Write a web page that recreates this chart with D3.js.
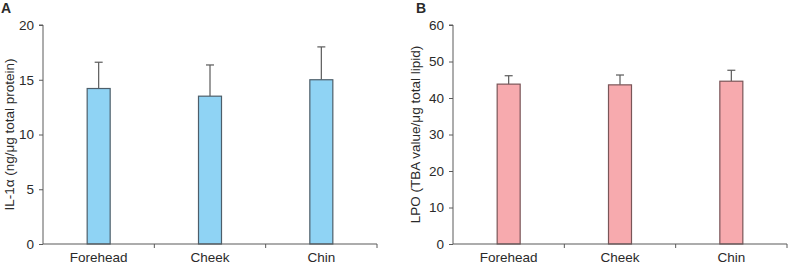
<!DOCTYPE html>
<html><head><meta charset="utf-8">
<script src="https://cdn.jsdelivr.net/npm/d3@7"></script>
<style>body{margin:0;background:#fff}svg{display:block}text{font-family:"Liberation Sans",Arial,sans-serif}</style>
</head><body>
<svg id="c" width="789" height="264"></svg>
<script>
const categories = ["Forehead", "Cheek", "Chin"];
const il1aMean = [14.2, 13.5, 15.0];
const il1aErr = [2.4, 2.85, 3.0];
const lpoMean = [43.8, 43.6, 44.6];
const lpoErr = [2.3, 2.7, 3.0];
const il1aTicks = [0, 5, 10, 15, 20];
const lpoTicks = [0, 10, 20, 30, 40, 50, 60];

const svg = d3.select("#c");
const axisColor = "#5a5a5a";
const textColor = "#2a2a2a";
const fs = 13.5;

function panel(opt) {
  const g = svg.append("g");
  const x = d3.scaleBand().domain(categories).range([opt.x0, opt.x1]).paddingInner(0).paddingOuter(0);
  const y = d3.scaleLinear().domain([0, opt.max]).range([244, 25]);
  const barW = 23;
  opt.mean.forEach((v, i) => {
    const c = x(categories[i]) + x.bandwidth() / 2;
    const top = y(v), etop = y(v + opt.err[i]);
    g.append("line").attr("x1", c).attr("x2", c).attr("y1", top).attr("y2", etop).attr("stroke", axisColor).attr("stroke-width", 1.2);
    g.append("line").attr("x1", c - 4).attr("x2", c + 4).attr("y1", etop).attr("y2", etop).attr("stroke", axisColor).attr("stroke-width", 1.2);
    g.append("rect").attr("x", c - barW / 2).attr("y", top).attr("width", barW).attr("height", y(0) - top)
      .attr("fill", opt.fill).attr("stroke", opt.stroke).attr("stroke-width", 1.2);
  });
  const ya = d3.axisLeft(y).tickValues(opt.ticks).tickSize(4).tickPadding(5);
  const yg = g.append("g").attr("transform", `translate(${opt.x0},0)`).call(ya);
  yg.select(".domain").attr("stroke", axisColor).attr("d", `M-4,${y(opt.max)}H0V${y(0)}`);
  yg.selectAll(".tick line").attr("stroke", axisColor);
  yg.selectAll("text").attr("font-size", fs).attr("fill", textColor).attr("font-family", '"Liberation Sans",Arial,sans-serif');
  const bounds = categories.map(c => x(c) + x.bandwidth());
  g.append("line").attr("x1", opt.x0).attr("x2", opt.x1).attr("y1", y(0)).attr("y2", y(0)).attr("stroke", axisColor).attr("stroke-width", 1.2);
  bounds.forEach(b => g.append("line").attr("x1", b).attr("x2", b).attr("y1", y(0)).attr("y2", y(0) + 4).attr("stroke", axisColor));
  categories.forEach(c => g.append("text").attr("x", x(c) + x.bandwidth() / 2).attr("y", 261.5)
    .attr("text-anchor", "middle").attr("font-size", fs).attr("fill", textColor).text(c));
  g.append("text").attr("transform", `translate(${opt.titleX},${(y(0) + y(opt.max)) / 2}) rotate(-90)`)
    .attr("text-anchor", "middle").attr("font-size", fs).attr("fill", textColor).text(opt.title);
  g.append("text").attr("x", opt.letterX).attr("y", 12.5).attr("font-size", 14).attr("font-weight", "bold").attr("fill", textColor).text(opt.letter);
}

panel({x0: 43, x1: 377, max: 20, ticks: il1aTicks, mean: il1aMean, err: il1aErr,
  fill: "#8fd3f4", stroke: "#4d5e6a", title: "IL-1α (ng/μg total protein)", titleX: 13.5, letter: "A", letterX: 1});
panel({x0: 453, x1: 787, max: 60, ticks: lpoTicks, mean: lpoMean, err: lpoErr,
  fill: "#f7aaae", stroke: "#7a5558", title: "LPO (TBA value/μg total lipid)", titleX: 420, letter: "B", letterX: 416});
</script>
</body></html>
